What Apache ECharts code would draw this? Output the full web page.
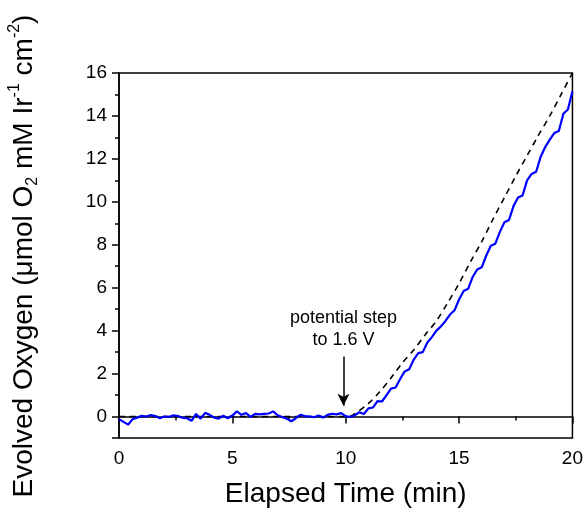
<!DOCTYPE html>
<html>
<head>
<meta charset="utf-8">
<script src="https://cdn.jsdelivr.net/npm/echarts@6/dist/echarts.min.js"></script>
<style>
    html, body { margin: 0; padding: 0; background: #fff; }
    #chart { width: 586px; height: 513px; }
</style>
</head>
<body>
<div id="chart"></div>
<script>
    // measured O2 trace (blue)
    const measuredTime = [
        0, 0.2, 0.4, 0.6, 0.8, 1.0, 1.2, 1.4, 1.6, 1.8, 2.0, 2.2, 2.4, 2.6, 2.8, 3.0, 3.2, 3.4, 3.6, 3.8,
        4.0, 4.2, 4.4, 4.6, 4.8, 5.0, 5.2, 5.4, 5.6, 5.8, 6.0, 6.2, 6.4, 6.6, 6.8, 7.0, 7.2, 7.4, 7.6, 7.8,
        8.0, 8.2, 8.4, 8.6, 8.8, 9.0, 9.2, 9.4, 9.6, 9.8, 10.0, 10.2,
        10.4, 10.6, 10.8, 11.0, 11.2, 11.4, 11.6, 11.8, 12.0, 12.2, 12.4, 12.6, 12.8, 13.0, 13.2, 13.4, 13.6, 13.8,
        14.0, 14.2, 14.4, 14.6, 14.8, 15.0, 15.2, 15.4, 15.6, 15.8, 16.0, 16.2, 16.4, 16.6, 16.8, 17.0, 17.2, 17.4,
        17.6, 17.8, 18.0, 18.2, 18.4, 18.6, 18.8, 19.0, 19.2, 19.4, 19.6, 19.8, 20.0
    ];
    const measuredO2 = [
        -0.13, -0.25, -0.38, -0.12, -0.05, 0.03, 0.0, 0.07, 0.02, -0.08, 0.0, -0.02, 0.06, 0.02, -0.06, -0.08, -0.2, 0.12, -0.1, 0.17,
        0.08, -0.05, -0.1, 0.04, -0.08, 0.05, 0.24, 0.08, 0.16, -0.02, 0.12, 0.1, 0.12, 0.14, 0.24, 0.06, -0.02, -0.1, -0.22, -0.08,
        0.08, 0.02, 0.0, -0.03, 0.05, -0.05, 0.08, 0.13, 0.1, 0.16, 0.02, -0.02,
        0.05, 0.2, 0.12, 0.38, 0.42, 0.72, 0.7, 1.0, 1.3, 1.35, 1.75, 2.1, 2.2, 2.65, 2.95, 3.0, 3.45, 3.7,
        4.0, 4.2, 4.45, 4.75, 4.95, 5.45, 5.85, 5.95, 6.5, 6.85, 6.95, 7.5, 7.95, 8.05, 8.6, 9.05, 9.15, 9.8,
        10.2, 10.3, 11.0, 11.3, 11.4, 12.1, 12.55, 12.9, 13.2, 13.3, 14.1, 14.3, 15.15
    ];

    // theoretical (dashed) curve
    const modelTime = [0, 10.0, 10.2, 10.5, 11, 11.5, 12, 12.5, 13, 13.5, 14, 14.5, 15, 15.5, 16, 16.5, 17, 17.5, 18, 18.5, 19, 19.5, 20];
    const modelO2 = [0, 0, 0.02, 0.2, 0.6, 1.15, 1.8, 2.5, 3.1, 3.8, 4.45, 5.3, 6.2, 7.2, 8.15, 9.2, 10.2, 11.2, 12.15, 13.1, 14.0, 15.0, 16.0];

    // annotation arrow: [time, O2] start and end
    const arrowFrom = [9.9, 2.8];
    const arrowTo = [9.9, 0.5];

    const font = 'Liberation Sans, Arial, sans-serif';

    const chart = echarts.init(document.getElementById('chart'));
    const option = {
        animation: false,
        backgroundColor: '#fff',
        grid: {
            left: 119,
            right: 12,
            top: 73,
            bottom: 74,
            show: true,
            borderColor: '#000',
            borderWidth: 1.5
        },
        xAxis: {
            type: 'value',
            min: 0,
            max: 20,
            interval: 5,
            name: 'Elapsed Time (min)',
            nameLocation: 'middle',
            nameGap: 42,
            nameTextStyle: { fontFamily: font, fontSize: 28, color: '#000' },
            axisLine: { lineStyle: { color: '#000', width: 1.5 } },
            axisTick: { length: 7, lineStyle: { color: '#000', width: 1.5 } },
            minorTick: { show: true, splitNumber: 2, length: 4, lineStyle: { color: '#000', width: 1.5 } },
            axisLabel: { fontFamily: font, fontSize: 19, color: '#000', margin: 11 },
            splitLine: { show: false }
        },
        yAxis: [
            {
                type: 'value',
                min: -1,
                max: 16,
                splitNumber: 8,
                axisLine: { show: true, lineStyle: { color: '#000', width: 1.5 } },
                axisTick: { show: true, length: 7, lineStyle: { color: '#000', width: 1.5 } },
                axisLabel: {
                    fontFamily: font, fontSize: 19, color: '#000', margin: 12,
                    formatter: v => (v < 0 ? '' : String(v))
                },
                splitLine: { show: false }
            },
            {
                // minor ticks every 1
                type: 'value',
                position: 'left',
                min: -1,
                max: 16,
                interval: 1,
                axisLine: { show: false },
                axisTick: { show: true, length: 4, lineStyle: { color: '#000', width: 1.5 } },
                axisLabel: { show: false },
                splitLine: { show: false }
            }
        ],
        graphic: [{
            type: 'text',
            x: 24,
            y: 256,
            rotation: Math.PI / 2,
            style: {
                text: '{n|Evolved Oxygen (μmol O}{sub|2}{n| mM Ir}{sup|-1}{n| cm}{sup|-2}{n|)}',
                align: 'center',
                verticalAlign: 'middle',
                fill: '#000',
                rich: {
                    n: { fontFamily: font, fontSize: 28, lineHeight: 34, fill: '#000' },
                    sub: { fontFamily: font, fontSize: 16, lineHeight: 20, verticalAlign: 'bottom', fill: '#000' },
                    sup: { fontFamily: font, fontSize: 16, lineHeight: 18, verticalAlign: 'top', fill: '#000' }
                }
            }
        }],
        series: [
            {
                name: 'model',
                type: 'line',
                data: modelTime.map((t, i) => [t, modelO2[i]]),
                smooth: 0.3,
                showSymbol: false,
                lineStyle: { color: '#000', width: 1.6, type: [6, 5] },
                z: 2,
                markLine: {
                    silent: true,
                    symbol: ['none', 'arrow'],
                    symbolSize: [9, 12],
                    lineStyle: { color: '#000', width: 1.5, type: 'solid' },
                    label: {
                        show: true,
                        position: 'start',
                        distance: 5,
                        formatter: 'potential step\nto 1.6 V',
                        fontFamily: font,
                        fontSize: 18,
                        lineHeight: 22,
                        color: '#000',
                        align: 'center'
                    },
                    data: [[{ coord: arrowFrom }, { coord: arrowTo }]]
                }
            },
            {
                name: 'measured',
                type: 'line',
                data: measuredTime.map((t, i) => [t, measuredO2[i]]),
                showSymbol: false,
                lineStyle: { color: '#0000ff', width: 2.2 },
                z: 3
            }
        ]
    };
    chart.setOption(option);
</script>
</body>
</html>
